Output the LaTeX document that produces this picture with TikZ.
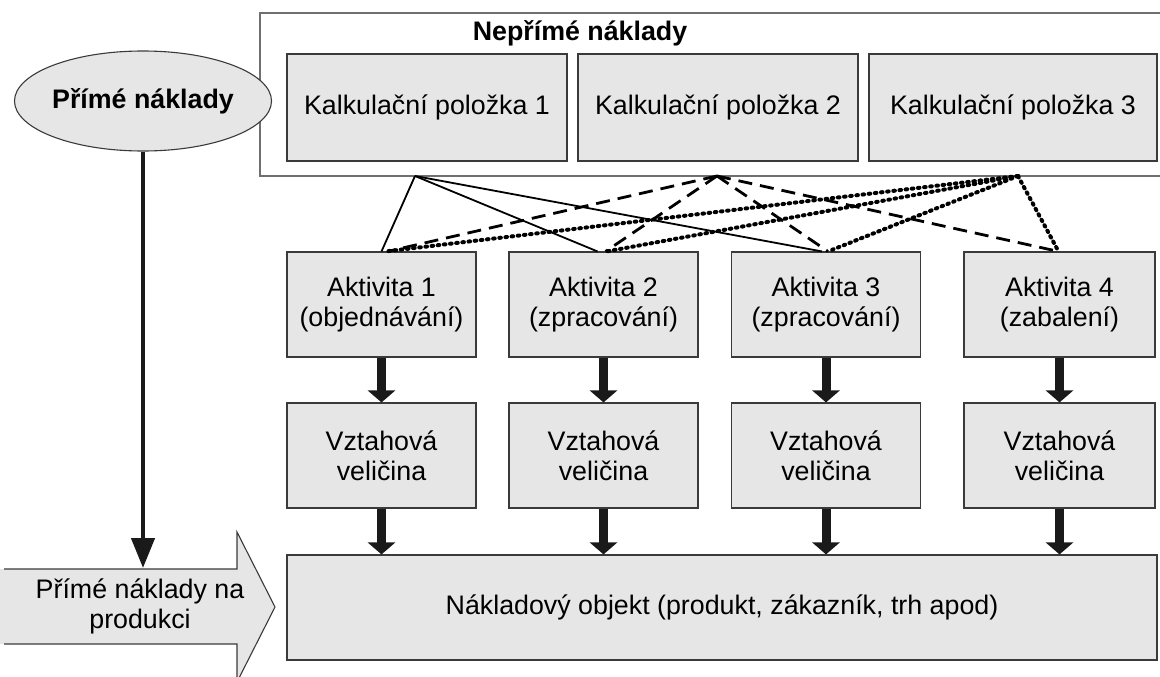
\documentclass[tikz,border=0pt]{standalone}
\usepackage{fontspec}
\setmainfont{Liberation Sans}
\usetikzlibrary{arrows.meta,shapes.geometric}
\definecolor{boxfill}{HTML}{E6E6E6}
\definecolor{boxline}{HTML}{3A3A3A}
\definecolor{framegray}{HTML}{707070}
\definecolor{arrowdark}{HTML}{1A1A1A}
\begin{document}
\begin{tikzpicture}[x=1pt,y=-1pt,
  every node/.style={font=\fontsize{26.8}{30}\selectfont, align=center, inner sep=0pt},
  graybox/.style={draw=boxline, line width=1.1pt, fill=boxfill, rectangle},
  kbox/.style={graybox, minimum height=107pt},
  abox/.style={graybox, minimum width=189pt, minimum height=105pt},
  flowarrow/.style={draw=arrowdark, line width=9pt, -{Triangle[width=27pt,length=12pt]}},
  solidlink/.style={line width=1.8pt},
  dashlink/.style={line width=2.8pt, dash pattern=on 14pt off 8pt},
  dotlink/.style={line width=4pt, line cap=round, dash pattern=on 1.6pt off 4.6pt}
]
\useasboundingbox (0,0) rectangle (1160,677);

% frame of the indirect costs
\draw[framegray, line width=1.1pt, fill=white] (1170,13) -- (260,13) -- (260,176) -- (1170,176);
\node[font=\fontsize{26.8}{30}\selectfont\bfseries] (nep) at (580,33) {Nepřímé náklady};

\node[kbox, minimum width=280pt] (k1) at (427,107.5) {Kalkulační položka 1};
\node[kbox, minimum width=280pt] (k2) at (718,107.5) {Kalkulační položka 2};
\node[kbox, minimum width=288pt] (k3) at (1013,107.5) {Kalkulační položka 3};

% direct costs
\node[ellipse, draw=boxline, line width=1.1pt, fill=boxfill, minimum width=228pt, minimum height=100pt,
      font=\fontsize{26.8}{30}\selectfont\bfseries] (prime) at (143,101) {Přímé náklady};

% activities
\node[abox] (a1) at (381.5,304.5) {Aktivita 1\\(objednávání)};
\node[abox] (a2) at (603.5,304.5) {Aktivita 2\\(zpracování)};
\node[abox] (a3) at (826,304.5) {Aktivita 3\\(zpracování)};
\node[abox, minimum width=191pt] (a4) at (1059.5,304.5) {Aktivita 4\\(zabalení)};

% cost drivers
\node[abox] (v1) at (381.5,455.5) {Vztahová\\veličina};
\node[abox] (v2) at (603.5,455.5) {Vztahová\\veličina};
\node[abox] (v3) at (826,455.5) {Vztahová\\veličina};
\node[abox, minimum width=191pt] (v4) at (1059.5,455.5) {Vztahová\\veličina};

% cost object
\node[graybox, minimum width=870pt, minimum height=105pt] (obj) at (722,607.5)
  {Nákladový objekt (produkt, zákazník, trh apod)};

% direct costs to product arrow shape
\fill[boxfill] (0,569) -- (237,569) -- (237,532) -- (275,607) -- (237,682) -- (237,644) -- (0,644) -- cycle;
\draw[boxline, line width=1.1pt] (4,569) -- (237,569) -- (237,532) -- (275,607) -- (237,682) -- (237,644) -- (4,644);
\node (dirprod) at (140,606) {Přímé náklady na\\produkci};

% thick arrow from direct costs
\coordinate (primeend) at (143,568);
\draw[arrowdark, line width=4.5pt, -{Triangle[width=23pt,length=30pt]}] (prime.south) -- (primeend);

% allocation links
\coordinate (s0) at (415,176);
\coordinate (d0) at (717,176);
\coordinate (t0) at (1018,176);
\draw[solidlink] (s0) -- (a1.north);
\draw[solidlink] (s0) -- ([xshift=-6pt]a2.north);
\draw[solidlink] (s0) -- ([xshift=-4pt]a3.north);
\draw[dashlink] (d0) -- ([xshift=6pt]a1.north);
\draw[dashlink] (d0) -- ([xshift=2pt]a2.north);
\draw[dashlink] (d0) -- ([xshift=2pt]a3.north);
\draw[dashlink] (d0) -- ([xshift=-1pt]a4.north);
\draw[dotlink] (t0) -- ([xshift=4pt]a1.north);
\draw[dotlink] (t0) -- ([xshift=3pt]a2.north);
\draw[dotlink] (t0) -- ([xshift=2pt]a3.north);
\draw[dotlink] (t0) -- ([xshift=-1pt]a4.north);

% flow arrows
\foreach \i in {1,2,3,4}{
  \draw[flowarrow] (a\i.south) -- (v\i.north);
  \draw[flowarrow] (v\i.south) -- (v\i.south |- obj.north);
}
\end{tikzpicture}
\end{document}
